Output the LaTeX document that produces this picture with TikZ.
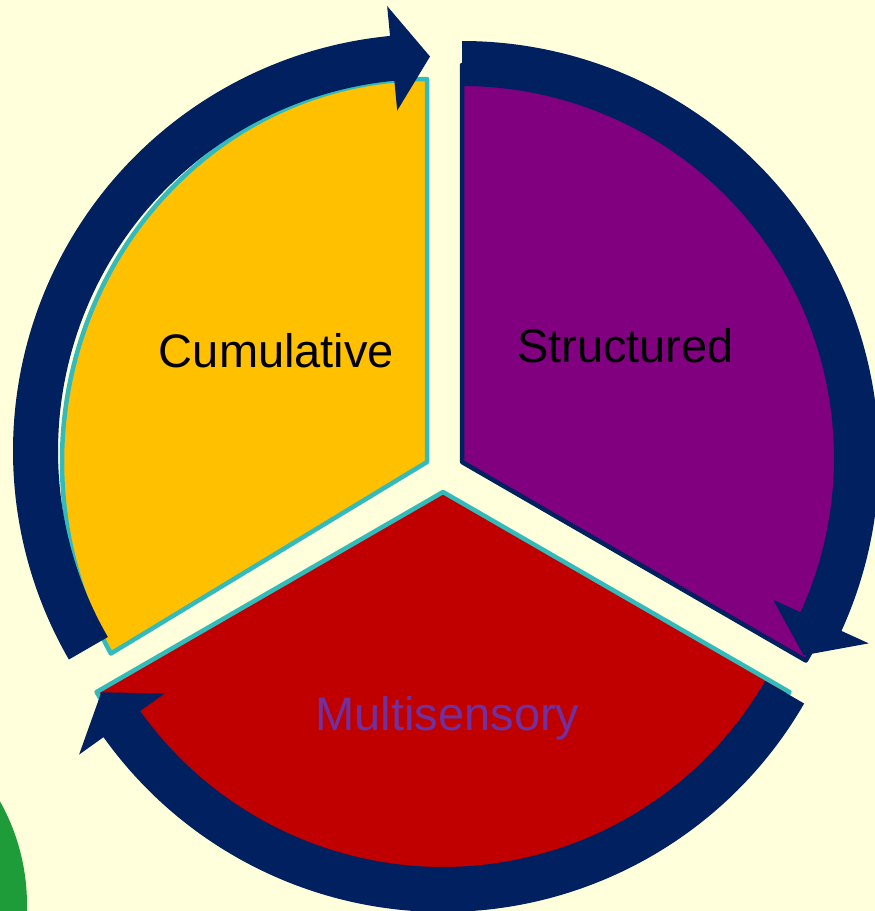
\documentclass[tikz,border=0pt]{standalone}
\usepackage{fontspec}
\setmainfont{Liberation Sans}

\definecolor{pagebg}{HTML}{FFFFDC}
\definecolor{ringnavy}{HTML}{002060}
\definecolor{segyellow}{HTML}{FFC000}
\definecolor{segpurple}{HTML}{800080}
\definecolor{segred}{HTML}{C00000}
\definecolor{segteal}{HTML}{33BBBB}
\definecolor{labelviolet}{HTML}{7030A0}
\definecolor{cornergreen}{HTML}{1E9C3A}

\tikzset{
  % clockwise ring arrow around a segment: #1 = tail angle, #2 = tip angle
  pics/cyclearrow/.style 2 args={code={
    \fill[ringnavy] (#1:417) arc[start angle=#1, end angle=#2+5.5, radius=417]
      -- (#2+5.5:447) -- (#2:394.5) -- (#2+5.5:342) -- (#2+5.5:372)
      arc[start angle=#2+5.5, end angle=#1, radius=372] -- cycle;
  }},
  segment/.style={line width=4.5, line join=round},
  seglabel/.style={inner sep=0pt, anchor=base, font=\fontsize{47}{56}\selectfont}
}

\begin{document}
\begin{tikzpicture}[x=1pt, y=1pt]
  \useasboundingbox (0,0) rectangle (875,-911);
  \clip (0,0) rectangle (875,-911);
  \fill[pagebg] (0,0) rectangle (875,-911);

  % green disc in the lower left corner
  \coordinate (gc) at (-185,-905);
  \fill[cornergreen] (gc) circle[radius=212];

  % segment apexes and ring-arrow centres
  \coordinate (ya) at (427,-462);
  \coordinate (pa) at (462,-462);
  \coordinate (ra) at (443,-492);
  \coordinate (yc) at (430,-451);
  \coordinate (pc) at (462,-458);
  \coordinate (rc) at (443,-495);

  % the three segments
  \filldraw[segment, fill=segyellow, draw=segteal]
    (ya) -- ++(0,383) arc[start angle=90, end angle=210, x radius=365, y radius=383] -- cycle;
  \filldraw[segment, fill=segpurple, draw=ringnavy]
    (pa) -- ++(90:397) arc[start angle=90, end angle=-30, radius=397] -- cycle;
  \filldraw[segment, fill=segred, draw=segteal]
    (ra) -- ++(210:400) arc[start angle=210, end angle=330, radius=400] -- cycle;

  % ring arrows
  \pic at (yc) {cyclearrow={210}{90}};
  \pic at (pc) {cyclearrow={90}{-30}};
  \pic at (rc) {cyclearrow={330}{210}};

  % labels
  \node[seglabel] (cum) at (276.5,-367) {Cumulative};
  \node[seglabel] (str) at (625.5,-362) {Structured};
  \node[seglabel, text=labelviolet] (mul) at (447.5,-730) {Multisensory};
\end{tikzpicture}
\end{document}
